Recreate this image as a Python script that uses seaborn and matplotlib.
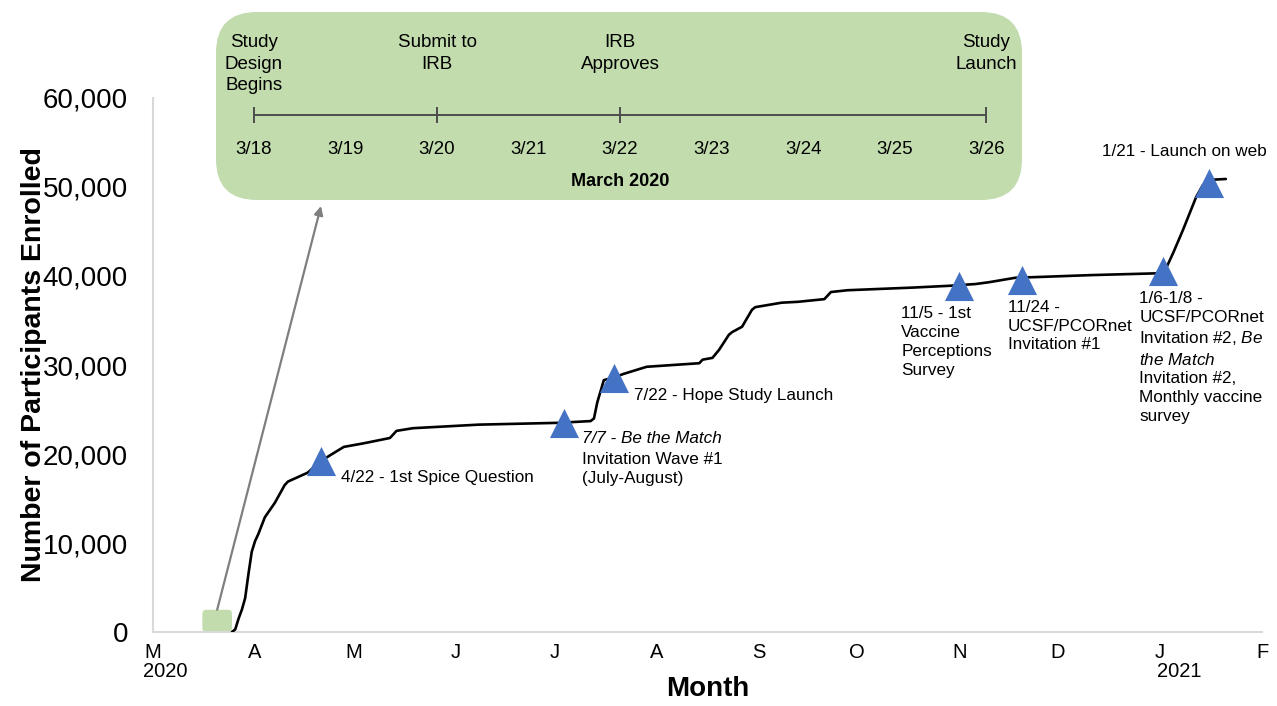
import pandas as pd
import matplotlib.pyplot as plt
import matplotlib.dates as mdates
import seaborn as sns
from matplotlib.patches import FancyBboxPatch

# ------------------------------
# Data
# ------------------------------
enroll_dates = ['2020-03-25', '2020-03-26', '2020-03-27', '2020-03-28', '2020-03-29',
                '2020-03-30', '2020-03-31', '2020-04-01', '2020-04-02', '2020-04-04',
                '2020-04-07', '2020-04-10', '2020-04-11', '2020-04-17', '2020-04-21',
                '2020-04-24', '2020-04-28', '2020-05-04', '2020-05-12', '2020-05-14',
                '2020-05-19', '2020-06-08', '2020-07-02', '2020-07-12', '2020-07-13',
                '2020-07-14', '2020-07-16', '2020-07-19', '2020-07-22', '2020-07-29',
                '2020-08-06', '2020-08-14', '2020-08-15', '2020-08-18', '2020-08-20',
                '2020-08-23', '2020-08-24', '2020-08-27', '2020-08-30', '2020-08-31',
                '2020-09-08', '2020-09-13', '2020-09-21', '2020-09-23', '2020-09-28',
                '2020-10-18', '2020-10-29', '2020-11-06', '2020-11-10', '2020-11-18',
                '2020-11-26', '2020-12-11', '2020-12-31', '2021-01-03', '2021-01-05',
                '2021-01-08', '2021-01-12', '2021-01-14', '2021-01-16', '2021-01-21']
enroll_counts = [0, 300, 1500, 2500, 3800,
                 6500, 9000, 10200, 11000, 12900,
                 14500, 16500, 16900, 17900, 19200,
                 19900, 20800, 21200, 21800, 22600,
                 22900, 23300, 23500, 23700, 24000,
                 25800, 28300, 28600, 29000, 29800,
                 30000, 30200, 30600, 30800, 31700,
                 33400, 33700, 34300, 36200, 36500,
                 37000, 37100, 37400, 38200, 38400,
                 38700, 38900, 39100, 39300, 39800,
                 39900, 40100, 40300, 41000, 42600,
                 45200, 48900, 50200, 50800, 50900]

event_dates = ['2020-04-21', '2020-07-04', '2020-07-19', '2020-11-01',
               '2020-11-20', '2021-01-02', '2021-01-16']
event_counts = [19200, 23500, 28500, 38900, 39600, 40600, 50500]
event_labels = ['4/22 - 1st Spice Question',
                '7/7 - Be the Match\nInvitation Wave #1\n(July-August)',
                '7/22 - Hope Study Launch',
                '11/5 - 1st\nVaccine\nPerceptions\nSurvey',
                '11/24 -\nUCSF/PCORnet\nInvitation #1',
                '1/6-1/8 -\nUCSF/PCORnet\nInvitation #2, $\\it{Be}$\n$\\it{the\\ Match}$\nInvitation #2,\nMonthly vaccine\nsurvey',
                '1/21 - Launch on web']

month_labels = ['M', 'A', 'M', 'J', 'J', 'A', 'S', 'O', 'N', 'D', 'J', 'F']
year_dates = ['2020-03-01', '2021-01-01']
year_labels = ['2020', '2021']

# March 2020 inset timeline
inset_days = [18, 19, 20, 21, 22, 23, 24, 25, 26]
inset_day_labels = ['3/18', '3/19', '3/20', '3/21', '3/22', '3/23', '3/24', '3/25', '3/26']
inset_event_days = [18, 20, 22, 26]
inset_event_labels = ['Study\nDesign\nBegins', 'Submit to\nIRB', 'IRB\nApproves', 'Study\nLaunch']
inset_span = ['2020-03-16', '2020-03-25']

# ------------------------------
# Style
# ------------------------------
sns.set_theme(style='white')
plt.rcParams['font.family'] = ['Liberation Sans', 'DejaVu Sans']
plt.rcParams['mathtext.fontset'] = 'custom'
plt.rcParams['mathtext.rm'] = 'Liberation Sans'
plt.rcParams['mathtext.it'] = 'Liberation Sans:italic'

GREEN = '#c2dcae'
BLUE = '#4472c4'

df = pd.DataFrame({'date': pd.to_datetime(enroll_dates), 'count': enroll_counts})
df_ev = pd.DataFrame({'date': pd.to_datetime(event_dates), 'count': event_counts})

fig, ax = plt.subplots(figsize=(12.77, 7.06), dpi=100)
fig.subplots_adjust(left=0.1198, right=0.9883, bottom=0.1048, top=0.8612)

sns.lineplot(data=df, x='date', y='count', color='black', linewidth=1.9, ax=ax, zorder=3)
sns.scatterplot(data=df_ev, x='date', y='count', marker='^', s=440, color=BLUE,
                linewidth=0, ax=ax, zorder=4)

ax.set_xlim(pd.Timestamp('2020-03-01'), pd.Timestamp('2021-02-01'))
ax.set_ylim(0, 60000)
ax.set_yticks(range(0, 60001, 10000))
ax.yaxis.set_major_formatter(plt.FuncFormatter(lambda v, p: f'{v:,.0f}'))
month_ticks = pd.date_range('2020-03-01', '2021-02-01', freq='MS')
ax.set_xticks(month_ticks)
ax.set_xticklabels(month_labels)
ax.tick_params(axis='y', length=0, pad=18, labelsize=20, labelcolor='black')
ax.tick_params(axis='x', length=0, pad=8, labelsize=14.5, labelcolor='black')

for s in ['top', 'right']:
    ax.spines[s].set_visible(False)
for s in ['left', 'bottom']:
    ax.spines[s].set_color('#d9d9d9')
    ax.spines[s].set_linewidth(1.5)

ax.set_xlabel('Month', fontsize=20, fontweight='bold', color='black')
ax.set_ylabel('Number of Participants Enrolled', fontsize=20.5, fontweight='bold', color='black')
ax.xaxis.set_label_coords(0.5, -0.083)
ax.yaxis.set_label_coords(-0.096, 0.5)

# year under month letters
for d, lab in zip(year_dates, year_labels):
    ax.annotate(lab, xy=(pd.Timestamp(d), 0), xycoords=('data', 'axes fraction'),
                xytext=(-10 if lab == '2020' else -3, -30), textcoords='offset pixels',
                ha='left', va='top', fontsize=14.5, color='black')

# event annotations (offsets in pixels from the marker)
offsets = [(20, -16, 'center'), (18, -29, 'top'), (20, -17, 'center'), (-58, -20, 'top'),
           (-14, -20, 'top'), (-24, -20, 'top'), (-107, 31, 'center')]
for i, (d, c, lab) in enumerate(zip(df_ev['date'], event_counts, event_labels)):
    dx, dy, va = offsets[i]
    if i == 1:
        first, lab = lab.split('\n', 1)
        ax.annotate(first, xy=(d, c), xytext=(dx, -8), textcoords='offset pixels',
                    ha='left', va='top', fontsize=12.3, style='italic', color='black')
    ax.annotate(lab, xy=(d, c), xytext=(dx, dy), textcoords='offset pixels',
                ha='left', va=va, fontsize=12.3, linespacing=1.33, color='black')

# small green box marking the inset period + arrow to inset
x0 = mdates.date2num(pd.Timestamp(inset_span[0]))
x1 = mdates.date2num(pd.Timestamp(inset_span[1]))
ax.add_patch(FancyBboxPatch((x0, 0), x1 - x0, 2500, boxstyle='round,pad=0,rounding_size=1.2',
                            mutation_aspect=375, facecolor=GREEN, edgecolor='none',
                            zorder=2, clip_on=False))
ax.annotate('', xy=(321 / 1277, 1 - 206 / 706), xycoords='figure fraction',
            xytext=(x0 + (x1 - x0) / 2, 2500), textcoords='data',
            arrowprops=dict(arrowstyle='-|>', color='#7f7f7f', lw=1.6, mutation_scale=13,
                            shrinkA=0, shrinkB=0))

# inset timeline box
bx, by, bw, bh = 216 / 1277, 1 - 200 / 706, 806 / 1277, 188 / 706
fig.add_artist(FancyBboxPatch((bx, by), bw, bh, boxstyle='round,pad=0,rounding_size=0.032',
                              mutation_aspect=1277 / 706, transform=fig.transFigure,
                              facecolor=GREEN, edgecolor='none', zorder=5))
ax_in = fig.add_axes([bx, by, bw, bh], zorder=6)
ax_in.set_axis_off()
ax_in.patch.set_alpha(0)
ax_in.set_xlim(17.585, 26.39)
ax_in.set_ylim(0, 1)
ax_in.plot([inset_days[0], inset_days[-1]], [0.452, 0.452], color='#4d4d4d', lw=1.4)
ax_in.plot(inset_event_days, [0.452] * len(inset_event_days), '|', color='#4d4d4d', ms=12, mew=1.4)
for d, lab in zip(inset_days, inset_day_labels):
    ax_in.text(d, 0.266, lab, ha='center', va='center', fontsize=13.5, color='black')
for d, lab in zip(inset_event_days, inset_event_labels):
    ax_in.text(d, 0.885, lab, ha='center', va='top', fontsize=13.5, linespacing=1.38, color='black')
ax_in.text(22, 0.096, 'March 2020', ha='center', va='center', fontsize=13, fontweight='bold',
           color='black')

plt.savefig('out.png', dpi=100)
plt.close()
